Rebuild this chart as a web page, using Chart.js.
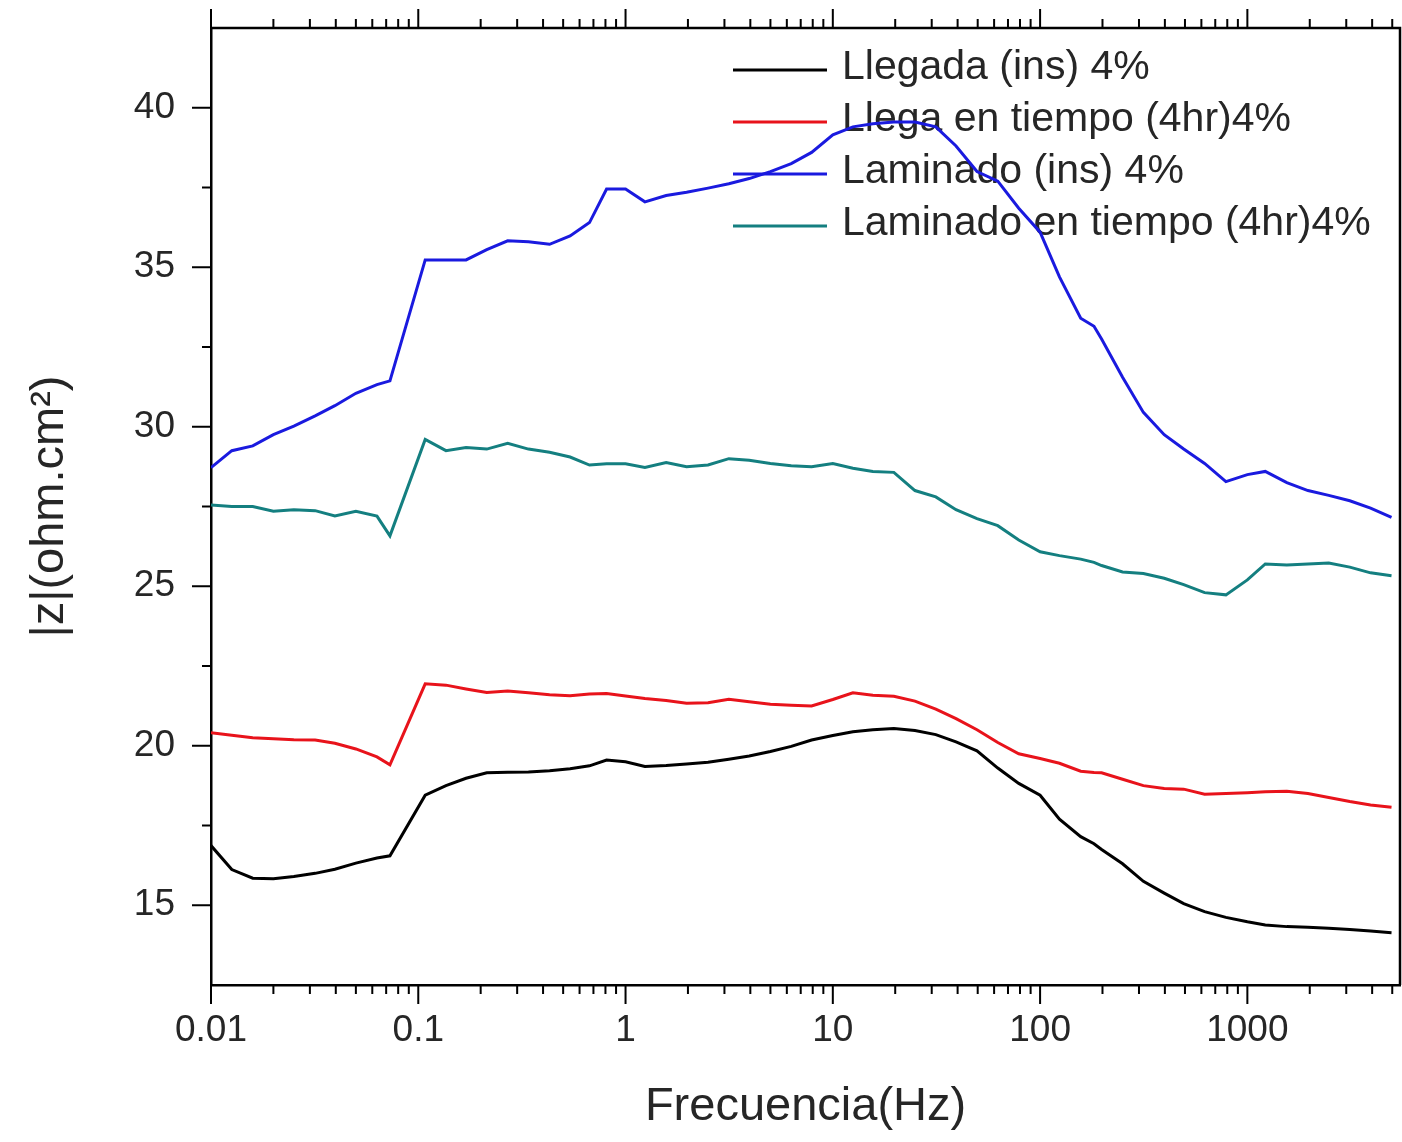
<!DOCTYPE html>
<html>
<head>
<meta charset="utf-8">
<script src="https://cdn.jsdelivr.net/npm/chart.js@4.4.1/dist/chart.umd.min.js"></script>
<style>
  html, body { margin: 0; padding: 0; background: #fff; }
  #wrap { width: 1402px; height: 1142px; }
</style>
</head>
<body>
<div id="wrap"><canvas id="impedanceChart" width="1402" height="1142"></canvas></div>
<script>
// frequencies (Hz)
const frequencies = [0.01, 0.0126, 0.0159, 0.02, 0.0251, 0.0318, 0.0396, 0.05, 0.0632, 0.073,
    0.108, 0.136, 0.17, 0.214, 0.27, 0.34, 0.43, 0.54, 0.67, 0.81,
    1.0, 1.24, 1.57, 1.97, 2.5, 3.15, 3.95, 5.0, 6.3, 7.9,
    10, 12.5, 15.6, 19.7, 24.9, 31.4, 39.3, 49.6, 62.5, 78.9,
    100, 124, 157, 182, 198, 250, 315, 397, 493, 622,
    788, 1000, 1220, 1550, 1960, 2470, 3120, 3930, 4960];

// |z| values
const llegadaIns = [16.87, 16.12, 15.85, 15.83, 15.9, 16.0, 16.13, 16.32, 16.48, 16.55,
    18.45, 18.75, 18.98, 19.15, 19.17, 19.18, 19.22, 19.28, 19.37, 19.55,
    19.5, 19.35, 19.38, 19.43, 19.48, 19.58, 19.68, 19.82, 19.98, 20.18,
    20.32, 20.44, 20.5, 20.54, 20.48, 20.35, 20.12, 19.84, 19.3, 18.82,
    18.45, 17.7, 17.15, 16.93, 16.75, 16.3, 15.75, 15.38, 15.05, 14.8,
    14.62, 14.48, 14.38, 14.33, 14.31, 14.28, 14.24, 14.19, 14.14];

const llegaTiempo = [20.41, 20.33, 20.25, 20.22, 20.19, 20.18, 20.08, 19.9, 19.65, 19.4,
    21.94, 21.9, 21.78, 21.67, 21.72, 21.66, 21.6, 21.57, 21.62, 21.64,
    21.56, 21.48, 21.42, 21.33, 21.35, 21.46, 21.38, 21.3, 21.27, 21.25,
    21.45, 21.66, 21.58, 21.55, 21.4, 21.15, 20.85, 20.5, 20.1, 19.75,
    19.6, 19.45, 19.2, 19.16, 19.15, 18.95, 18.75, 18.66, 18.64, 18.48,
    18.5, 18.53, 18.56, 18.57, 18.5, 18.38, 18.25, 18.14, 18.07];

const laminadoIns = [28.72, 29.25, 29.4, 29.75, 30.02, 30.34, 30.66, 31.05, 31.32, 31.44,
    35.23, 35.23, 35.23, 35.55, 35.83, 35.8, 35.72, 35.98, 36.4, 37.45,
    37.45, 37.05, 37.25, 37.35, 37.48, 37.62, 37.78, 38.0, 38.25, 38.6,
    39.15, 39.4, 39.5, 39.55, 39.55, 39.4, 38.8, 38.0, 37.7, 36.85,
    36.1, 34.7, 33.4, 33.15, 32.75, 31.55, 30.45, 29.75, 29.3, 28.85,
    28.28, 28.5, 28.6, 28.25, 28.0, 27.85, 27.68, 27.45, 27.16];

const laminadoTiempo = [27.55, 27.5, 27.5, 27.35, 27.4, 27.37, 27.2, 27.35, 27.2, 26.58,
    29.6, 29.25, 29.35, 29.3, 29.48, 29.3, 29.2, 29.05, 28.8, 28.84,
    28.84, 28.72, 28.88, 28.75, 28.8, 29.0, 28.95, 28.85, 28.78, 28.75,
    28.85, 28.7, 28.6, 28.57, 28.0, 27.8, 27.4, 27.12, 26.9, 26.45,
    26.08, 25.96, 25.85, 25.75, 25.65, 25.45, 25.4, 25.25, 25.05, 24.8,
    24.73, 25.2, 25.7, 25.67, 25.7, 25.73, 25.6, 25.42, 25.33];

const seriesLabels = ['Llegada (ins) 4%', 'Llega en tiempo (4hr)4%', 'Laminado (ins) 4%', 'Laminado en tiempo (4hr)4%'];
const seriesColors = ['#000000', '#e8131b', '#1a1adf', '#147f80'];

const xTickValues = [0.01, 0.1, 1, 10, 100, 1000];
const xTickLabels = ['0.01', '0.1', '1', '10', '100', '1000'];
const yTickValues = [15, 20, 25, 30, 35, 40];
const yMinorValues = [17.5, 22.5, 27.5, 32.5, 37.5];

const textColor = '#262626';

function toPoints(values) {
    return frequencies.map((f, i) => ({ x: f, y: values[i] }));
}

// ticks outside the frame, box on top/right, legend inside plot
const framePlugin = {
    id: 'framePlugin',
    beforeDatasetsDraw(chart) {
        const { ctx } = chart;
        ctx.save();
        chart.data.datasets.forEach((ds, i) => {
            const y = 70 + i * 52;
            ctx.strokeStyle = ds.borderColor;
            ctx.lineWidth = 3;
            ctx.beginPath();
            ctx.moveTo(733, y);
            ctx.lineTo(827, y);
            ctx.stroke();
            ctx.fillStyle = textColor;
            ctx.font = '41px "Liberation Sans", Arial, sans-serif';
            ctx.textBaseline = 'middle';
            ctx.textAlign = 'left';
            ctx.fillText(ds.label, 842, y - 2);
        });
        ctx.restore();
    },
    afterDraw(chart) {
        const { ctx, chartArea: a } = chart;
        const x = chart.scales.x;
        const y = chart.scales.y;
        ctx.save();
        ctx.strokeStyle = '#000';
        ctx.lineWidth = 2.5;
        ctx.beginPath();
        ctx.moveTo(a.left, a.top);
        ctx.lineTo(a.right, a.top);
        ctx.lineTo(a.right, a.bottom);
        ctx.stroke();

        ctx.lineWidth = 2;
        const drawX = (v, len) => {
            const px = x.getPixelForValue(v);
            if (px < a.left - 1 || px > a.right + 1) return;
            ctx.beginPath();
            ctx.moveTo(px, a.bottom);
            ctx.lineTo(px, a.bottom + len);
            ctx.moveTo(px, a.top);
            ctx.lineTo(px, a.top - len);
            ctx.stroke();
        };
        xTickValues.forEach(dec => {
            drawX(dec, 19);
            for (let k = 2; k <= 9; k++) drawX(dec * k, 9);
        });
        const drawY = (v, len) => {
            const py = y.getPixelForValue(v);
            ctx.beginPath();
            ctx.moveTo(a.left, py);
            ctx.lineTo(a.left - len, py);
            ctx.stroke();
        };
        yTickValues.forEach(v => drawY(v, 19));
        yMinorValues.forEach(v => drawY(v, 9));
        ctx.restore();
    }
};

const ctx = document.getElementById('impedanceChart');

new Chart(ctx, {
    type: 'line',
    data: {
        datasets: [llegadaIns, llegaTiempo, laminadoIns, laminadoTiempo].map((vals, i) => ({
            label: seriesLabels[i],
            data: toPoints(vals),
            borderColor: seriesColors[i],
            backgroundColor: seriesColors[i],
            borderWidth: 3,
            pointRadius: 0,
            tension: 0,
            fill: false,
        }))
    },
    options: {
        responsive: false,
        animation: false,
        layout: { padding: { top: 28, right: 2, left: 0, bottom: 0 } },
        plugins: {
            legend: { display: false },
            tooltip: { enabled: false },
        },
        scales: {
            x: {
                type: 'logarithmic',
                position: 'bottom',
                min: 0.01,
                max: 5450,
                afterBuildTicks: (scale) => {
                    scale.ticks = xTickValues.map(v => ({ value: v }));
                },
                afterFit: (scale) => {
                    scale.height = 157;
                    scale.paddingLeft = 0;
                    scale.paddingRight = 0;
                },
                grid: { display: false, drawTicks: false },
                border: { display: true, color: '#000', width: 2.5 },
                ticks: {
                    autoSkip: false,
                    maxRotation: 0,
                    padding: 24,
                    color: textColor,
                    font: { family: '"Liberation Sans", Arial, sans-serif', size: 37 },
                    callback: (value) => {
                        const i = xTickValues.indexOf(value);
                        return i >= 0 ? xTickLabels[i] : '';
                    }
                },
                title: {
                    display: true,
                    text: 'Frecuencia(Hz)',
                    color: textColor,
                    font: { family: '"Liberation Sans", Arial, sans-serif', size: 47 },
                    padding: { top: 0, bottom: 7 }
                }
            },
            y: {
                min: 12.5,
                max: 42.5,
                afterBuildTicks: (scale) => {
                    scale.ticks = yTickValues.map(v => ({ value: v }));
                },
                afterFit: (scale) => {
                    scale.width = 211;
                    scale.paddingTop = 0;
                    scale.paddingBottom = 0;
                },
                grid: { display: false, drawTicks: false },
                border: { display: true, color: '#000', width: 2.5 },
                ticks: {
                    padding: 36,
                    color: textColor,
                    font: { family: '"Liberation Sans", Arial, sans-serif', size: 37 },
                },
                title: {
                    display: true,
                    text: '|z|(ohm.cm²)',
                    color: textColor,
                    font: { family: '"Liberation Sans", Arial, sans-serif', size: 47 },
                    padding: { top: 22, bottom: 0 }
                }
            }
        }
    },
    plugins: [framePlugin]
});
</script>
</body>
</html>
